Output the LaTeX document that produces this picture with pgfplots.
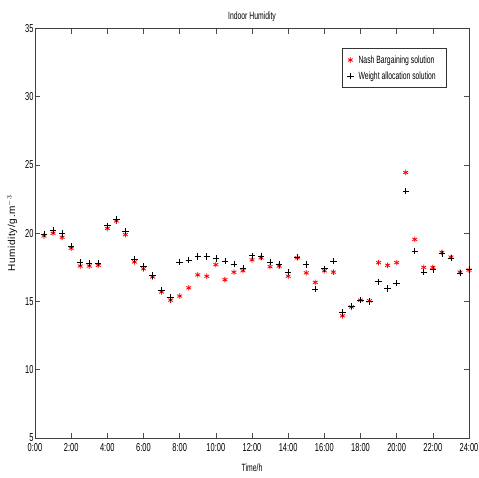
\documentclass[border=0pt]{standalone}
\usepackage{fontspec}
\setmainfont{Liberation Sans}[FakeStretch=0.65]
\newfontfamily\widesans{Liberation Sans}[LetterSpace=6]
\usepackage{pgfplots}
\usepackage{pgfplotstable}
\pgfplotsset{compat=1.18}

% Half-hourly indoor humidity, Nash bargaining solution
\pgfplotstableread{
t h
0.5 19.8
1.0 20.0
1.5 19.7
2.0 18.9
2.5 17.6
3.0 17.6
3.5 17.65
4.0 20.35
4.5 20.9
5.0 19.9
5.5 17.9
6.0 17.4
6.5 16.8
7.0 15.7
7.5 15.1
8.0 15.4
8.5 16.0
9.0 16.95
9.5 16.85
10.0 17.7
10.5 16.6
11.0 17.15
11.5 17.25
12.0 18.05
12.5 18.2
13.0 17.55
13.5 17.6
14.0 16.85
14.5 18.2
15.0 17.1
15.5 16.4
16.0 17.25
16.5 17.15
17.0 13.95
17.5 14.6
18.0 15.1
18.5 15.05
19.0 17.85
19.5 17.65
20.0 17.85
20.5 24.45
21.0 19.55
21.5 17.5
22.0 17.5
22.5 18.6
23.0 18.25
23.5 17.15
24.0 17.3
}\nash

% Half-hourly indoor humidity, weight allocation solution
\pgfplotstableread{
t h
0.5 19.95
1.0 20.2
1.5 19.97
2.0 19.05
2.5 17.85
3.0 17.8
3.5 17.8
4.0 20.55
4.5 21.05
5.0 20.15
5.5 18.1
6.0 17.55
6.5 16.9
7.0 15.85
7.5 15.3
8.0 17.9
8.5 18.05
9.0 18.3
9.5 18.3
10.0 18.15
10.5 17.95
11.0 17.75
11.5 17.45
12.0 18.35
12.5 18.3
13.0 17.9
13.5 17.7
14.0 17.15
14.5 18.25
15.0 17.7
15.5 15.9
16.0 17.4
16.5 17.95
17.0 14.2
17.5 14.65
18.0 15.1
18.5 15.0
19.0 16.45
19.5 15.95
20.0 16.35
20.5 23.1
21.0 18.7
21.5 17.15
22.0 17.35
22.5 18.5
23.0 18.2
23.5 17.1
24.0 17.35
}\weight

\begin{document}
\begin{tikzpicture}
\begin{axis}[
  scale only axis,
  width=434pt, height=409.5pt,
  xmin=0, xmax=24, ymin=5, ymax=35,
  xtick={0,2,...,24},
  xticklabels={0:00,2:00,4:00,6:00,8:00,10:00,12:00,14:00,16:00,18:00,20:00,22:00,24:00},
  ytick={5,10,...,35},
  tick align=inside,
  major tick length=5pt,
  every tick/.style={black!70, line width=0.6pt},
  axis line style={black!75, line width=0.8pt},
  /pgf/number format/assume math mode=true,
  ticklabel style={font=\fontsize{11.5}{12}\selectfont},
  xticklabel style={yshift=-2pt},
  yticklabel style={xshift=2pt},
  title={Indoor Humidity},
  title style={font=\fontsize{10.5}{11}\selectfont, yshift=-3pt},
  xlabel={Time/h},
  xlabel style={font=\fontsize{10.5}{11}\selectfont, yshift=-5pt},
  ylabel={Humidity/g.m$^{-3}$},
  ylabel style={font=\widesans\fontsize{10}{11}\selectfont, yshift=1pt},
  legend style={at={(0.707,0.952)}, anchor=north west,
    draw=black!80, line width=0.6pt,
    font=\fontsize{10.5}{12}\selectfont,
    row sep=3pt, inner xsep=5pt, inner ysep=5pt,
    nodes={inner xsep=5pt}},
  legend cell align=left,
]
\addplot[only marks, red, mark=asterisk, mark size=2.8pt, line width=0.8pt] table[x=t, y=h] {\nash};
\addlegendentry{Nash Bargaining solution}
\addplot[only marks, black, mark=+, mark size=3.2pt, line width=0.6pt] table[x=t, y=h] {\weight};
\addlegendentry{Weight allocation solution}
\end{axis}
\pgfresetboundingbox
\path ([shift={(-35pt,-39pt)}]current axis.south west) rectangle ([shift={(10pt,28.5pt)}]current axis.north east);
\end{tikzpicture}
\end{document}
